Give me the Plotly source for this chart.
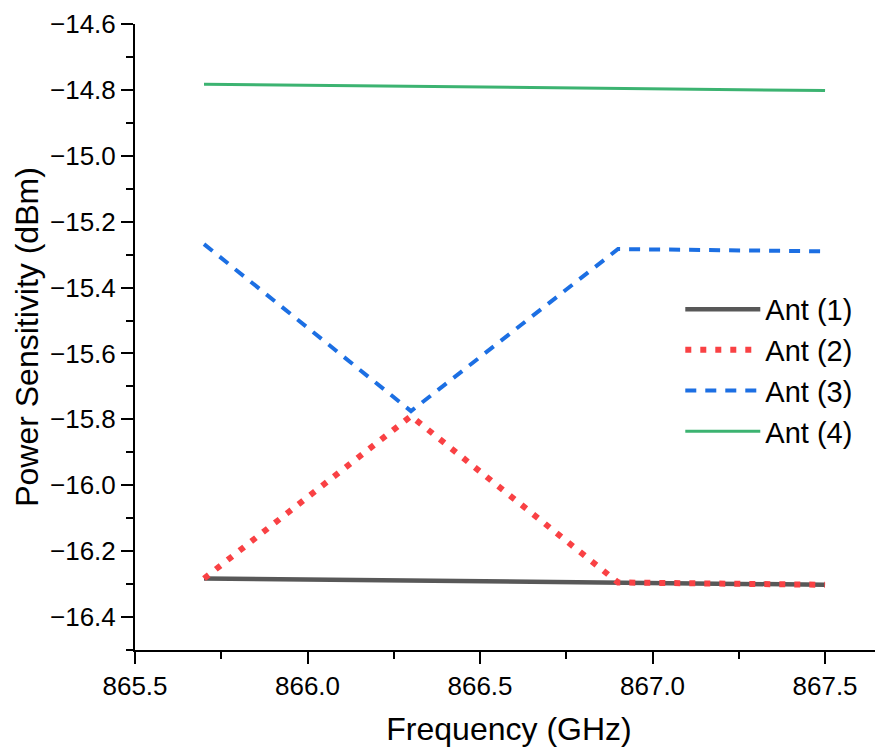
import plotly.graph_objects as go

# Frequency breakpoints (GHz) and power sensitivity (dBm) for each antenna
freq_ant1 = [865.7, 867.5]
ps_ant1 = [-16.283, -16.302]

freq_ant2 = [865.7, 866.3, 866.9, 867.5]
ps_ant2 = [-16.283, -15.79, -16.295, -16.302]

freq_ant3 = [865.7, 866.3, 866.9, 867.5]
ps_ant3 = [-15.268, -15.775, -15.283, -15.29]

freq_ant4 = [865.7, 867.5]
ps_ant4 = [-14.783, -14.802]

series = [
    ("Ant (1)", freq_ant1, ps_ant1, dict(color="#585858", width=4.5, dash="solid")),
    ("Ant (2)", freq_ant2, ps_ant2, dict(color="#f94144", width=6, dash="6px,9px")),
    ("Ant (3)", freq_ant3, ps_ant3, dict(color="#1c6fe3", width=4, dash="11px,9px")),
    ("Ant (4)", freq_ant4, ps_ant4, dict(color="#3cb371", width=3, dash="solid")),
]

fig = go.Figure()
for name, x, y, line in series:
    fig.add_trace(go.Scatter(x=x, y=y, mode="lines", name=name, line=line))

axis_common = dict(
    showline=True,
    linecolor="black",
    linewidth=2,
    ticks="outside",
    ticklen=12,
    tickwidth=2,
    tickcolor="black",
    showgrid=False,
    zeroline=False,
    tickfont=dict(size=26, color="black"),
    minor=dict(ticks="outside", ticklen=7, tickwidth=2, tickcolor="black"),
    mirror=False,
)

# page body has an 8px margin, so the figure is sized to fit the window
fig.update_layout(
    width=875,
    height=739,
    margin=dict(l=127, r=0, t=16, b=97),
    paper_bgcolor="white",
    plot_bgcolor="white",
    font=dict(family="Liberation Sans, Arial, sans-serif", color="black"),
    showlegend=True,
    legend=dict(
        x=0.729,
        y=0.585,
        xanchor="left",
        yanchor="top",
        font=dict(size=29, color="black"),
        bgcolor="rgba(0,0,0,0)",
        itemwidth=75,
        tracegroupgap=0,
    ),
    xaxis=dict(
        axis_common,
        range=[865.5, 867.668],
        tick0=865.5,
        dtick=0.5,
        tickformat=".1f",
        minor_dtick=0.25,
        title=dict(text="Frequency (GHz)", font=dict(size=32), standoff=19),
    ),
    yaxis=dict(
        axis_common,
        range=[-16.5, -14.6],
        tick0=-16.4,
        dtick=0.2,
        tickformat=".1f",
        minor_dtick=0.1,
        title=dict(text="Power Sensitivity (dBm)", font=dict(size=32), standoff=2),
    ),
)

fig.write_html("out.html")
